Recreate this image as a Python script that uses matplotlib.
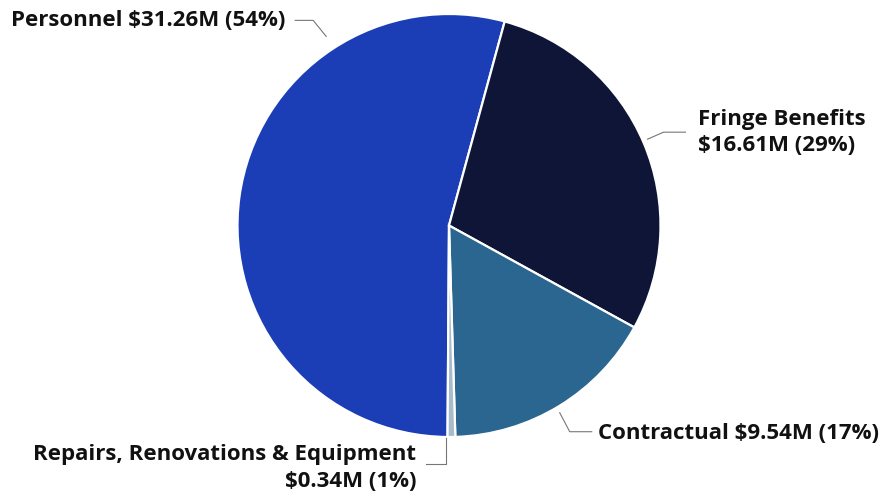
import numpy as np
import matplotlib.pyplot as plt

# budget categories (values in $M)
categories = ['Personnel', 'Fringe Benefits', 'Contractual', 'Repairs, Renovations & Equipment']
values = [31.26, 16.61, 9.54, 0.34]
pct_labels = ['54%', '29%', '17%', '1%']
colors = ['#1b3eb6', '#0f1536', '#2a6690', '#a9bccb']

W, H = 886, 495
fig = plt.figure(figsize=(W / 100, H / 100), dpi=100)
ax = fig.add_axes([0, 0, 1, 1])

cx, cy, r = 449, H - 225.5, 211.5
wedges, _ = ax.pie(values, colors=colors, startangle=-90.4, counterclock=False,
                   center=(cx, cy), radius=r,
                   wedgeprops=dict(edgecolor='white', linewidth=1.6))
ax.set_xlim(0, W)
ax.set_ylim(0, H)
ax.set_aspect('equal')
ax.axis('off')

font = dict(family='Open Sans', weight='bold', fontsize=16, color='#111111')
lc = '#777777'

def anchor(deg, extra=5):
    t = np.deg2rad(deg)
    return cx + (r + extra) * np.cos(t), cy + (r + extra) * np.sin(t)

# Personnel
x0, y0 = anchor(123, 14)
ax.plot([x0, x0 - 13, x0 - 31], [y0, y0 + 16, y0 + 16], color=lc, lw=0.8)
ax.text(x0 - 41, y0 + 16, f'{categories[0]} ${values[0]:.2f}M ({pct_labels[0]})',
        ha='right', va='center', **font)

# Fringe Benefits
x0, y0 = anchor(23.5)
ax.plot([x0, x0 + 16, x0 + 38], [y0, y0 + 7, y0 + 7], color=lc, lw=0.8)
ax.text(x0 + 50, y0 + 7, f'{categories[1]}\n${values[1]:.2f}M ({pct_labels[1]})',
        ha='left', va='center', linespacing=1.32, **font)

# Contractual
x0, y0 = anchor(-59.4, 6)
ax.plot([x0, x0 + 10, x0 + 32], [y0, y0 - 19, y0 - 19], color=lc, lw=0.8)
ax.text(x0 + 38, y0 - 21, f'{categories[2]} ${values[2]:.2f}M ({pct_labels[2]})',
        ha='left', va='center', **font)

# Repairs
x0, y0 = anchor(-90.8, 1)
ax.plot([x0, x0, x0 - 20], [y0, y0 - 26, y0 - 26], color=lc, lw=0.8)
ax.text(x0 - 30, y0 - 30, f'{categories[3]}\n${values[3]:.2f}M ({pct_labels[3]})',
        ha='right', va='center', multialignment='right', linespacing=1.32, **font)

fig.savefig('out.png', dpi=100, facecolor='white')
